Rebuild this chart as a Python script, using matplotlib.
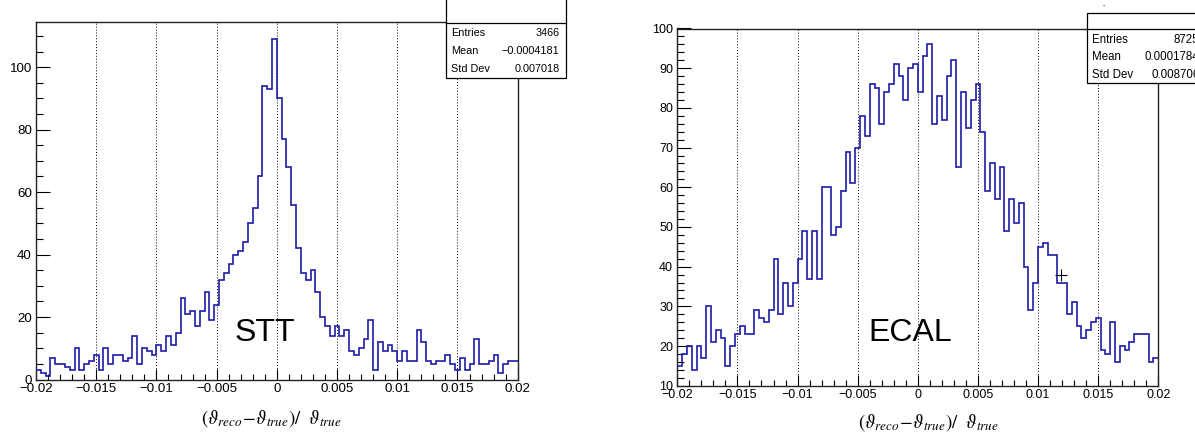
import numpy as np
import matplotlib
matplotlib.use('Agg')
import matplotlib.pyplot as plt
from matplotlib.patches import Rectangle
from matplotlib.ticker import FixedLocator, MultipleLocator, FixedFormatter

plt.rcParams['font.family'] = ['Liberation Sans', 'DejaVu Sans']
plt.rcParams['mathtext.fontset'] = 'stix'

# ---------------- data ----------------
x_range = (-0.02, 0.02)
n_bins = 100

stt_counts = [3, 2, 1, 7, 5, 5, 4, 3, 10, 3,
              5, 6, 8, 3, 10, 5, 8, 8, 6, 7,
              14, 5, 10, 9, 8, 11, 9, 14, 11, 15,
              26, 21, 22, 17, 22, 28, 19, 24, 32, 34,
              37, 40, 41, 44, 50, 55, 65, 94, 93, 109,
              90, 77, 68, 56, 42, 34, 32, 35, 28, 20,
              17, 14, 17, 14, 16, 9, 8, 10, 13, 19,
              3, 12, 9, 11, 9, 6, 9, 6, 6, 16,
              12, 6, 5, 6, 6, 8, 5, 3, 7, 3,
              5, 13, 5, 5, 6, 8, 2, 5, 6, 6]

ecal_counts = [15, 18, 20, 14, 20, 17, 30, 21, 24, 22,
               15, 20, 23, 25, 23, 23, 29, 27, 26, 29,
               42, 28, 36, 30, 36, 42, 49, 37, 49, 37,
               60, 60, 48, 50, 59, 69, 61, 70, 78, 73,
               86, 85, 76, 84, 86, 91, 88, 82, 90, 91,
               84, 93, 96, 76, 83, 77, 88, 92, 65, 84,
               75, 82, 86, 74, 59, 66, 57, 65, 49, 57,
               51, 56, 40, 29, 36, 45, 46, 43, 43, 36,
               36, 28, 31, 25, 22, 24, 26, 27, 19, 18,
               26, 16, 20, 19, 21, 23, 23, 23, 16, 17]

x_ticks = [-0.02, -0.015, -0.01, -0.005, 0.0, 0.005, 0.01, 0.015, 0.02]
x_tick_labels = ['\u22120.02', '\u22120.015', '\u22120.01', '\u22120.005', '0',
                 '0.005', '0.01', '0.015', '0.02']
stt_y_ticks = [0, 20, 40, 60, 80, 100]
ecal_y_ticks = [10, 20, 30, 40, 50, 60, 70, 80, 90, 100]

stt_stats = [('Entries', '3466'), ('Mean', '\u22120.0004181'), ('Std Dev', '0.007018')]
ecal_stats = [('Entries', '8725'), ('Mean', '0.0001784'), ('Std Dev', '0.008706')]

stt_name = 'STT'
ecal_name = 'ECAL'
x_title = r'$(\vartheta_{reco}\!-\!\vartheta_{true})/\ \ \vartheta_{true}$'

ecal_marker_x = [0.01192]
ecal_marker_y = [37.8]

hist_color = '#1c1ca8'

# ---------------- figure ----------------
W, H = 1195, 434
fig = plt.figure(figsize=(W / 100, H / 100), dpi=100)


def px_axes(l, r, t, b):
    return fig.add_axes([l / W, (H - b) / H, (r - l) / W, (b - t) / H])


ax1 = px_axes(36.0, 517.7, 22.0, 379.5)
ax2 = px_axes(677.3, 1158.3, 28.5, 385.7)


def style(ax, counts, yticks, ymin, ymax, yminor, fs):
    edges = np.linspace(x_range[0], x_range[1], n_bins + 1)
    ax.grid(True, axis='x', which='major', color='black', lw=0.7,
            linestyle=(0, (1, 2)), zorder=1)
    ax.stairs(counts, edges, color=hist_color, lw=1.2, baseline=None, zorder=3)
    ax.set_xlim(x_range)
    ax.set_ylim(ymin, ymax)
    ax.xaxis.set_major_locator(FixedLocator(x_ticks))
    ax.xaxis.set_major_formatter(FixedFormatter(x_tick_labels))
    ax.xaxis.set_minor_locator(MultipleLocator(0.001))
    ax.yaxis.set_major_locator(FixedLocator(yticks))
    ax.yaxis.set_minor_locator(MultipleLocator(yminor))
    ax.tick_params(axis='x', which='major', direction='in', length=8, width=0.8,
                   pad=2.5, labelsize=fs, top=False)
    ax.tick_params(axis='x', which='minor', direction='in', length=4, width=0.8, top=False)
    ax.tick_params(axis='y', which='major', direction='in', length=10, width=0.8,
                   pad=3, labelsize=fs, right=False)
    ax.tick_params(axis='y', which='minor', direction='in', length=5, width=0.8, right=False)
    for s in ax.spines.values():
        s.set_linewidth(1.0)
        s.set_color('#222222')


style(ax1, stt_counts, stt_y_ticks, 0, 114.45, 5, 9.6)
style(ax2, ecal_counts, ecal_y_ticks, 10, 100, 2, 9.0)
ax2.plot(ecal_marker_x, ecal_marker_y, '+', color='black', ms=8, mew=0.8, zorder=4)

# overlay in pixel coordinates for annotation boxes and labels
ov = fig.add_axes([0, 0, 1, 1], zorder=10)
ov.set_xlim(0, W)
ov.set_ylim(H, 0)
ov.axis('off')
ov.patch.set_alpha(0)


def stats_box(l, r, t, b, sep, rows, ys, fs, label_x, value_x):
    ov.add_patch(Rectangle((l, t), r - l, b - t, facecolor='white',
                           edgecolor='black', lw=0.9))
    ov.plot([l, r], [sep, sep], color='black', lw=0.9)
    for (lab, val), y in zip(rows, ys):
        ov.text(label_x, y, lab, fontsize=fs, ha='left', va='center')
        ov.text(value_x, y, val, fontsize=fs, ha='right', va='center')


stats_box(445.7, 565.7, -5, 77.7, 23.3, stt_stats, [33.5, 51.2, 69.5], 7.8, 451.3, 559.5)
stats_box(1086.7, 1210, 12.7, 83.3, 29.0, ecal_stats, [40.2, 57.5, 75.0], 8.3, 1092.3, 1199.5)
ov.text(1104, 6, '-', fontsize=5, ha='center', va='center')

ov.text(265, 333, stt_name, fontsize=23, ha='center', va='center')
ov.text(910, 333, ecal_name, fontsize=23, ha='center', va='center')

ov.text(271, 419, x_title, fontsize=13.5, ha='center', va='center')
ov.text(928, 423, x_title, fontsize=13.5, ha='center', va='center')

fig.savefig('out.png', dpi=100)
